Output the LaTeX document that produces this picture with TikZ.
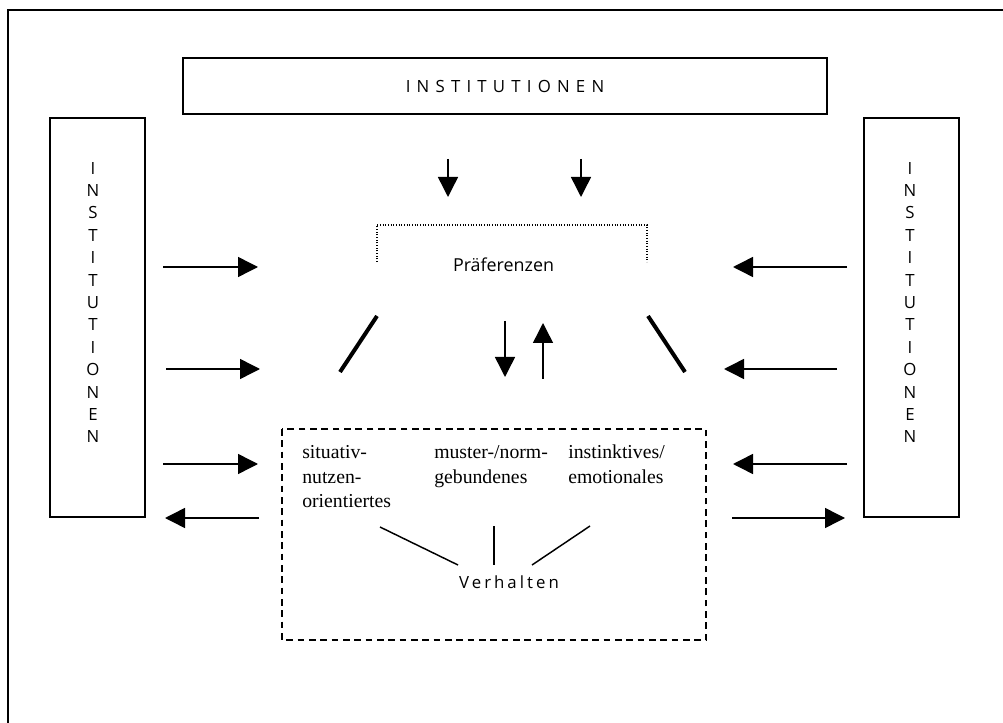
\documentclass[tikz,border=0pt]{standalone}
\usepackage{fontspec}
\setmainfont{Liberation Serif}
\newfontfamily\sansf{Open Sans}
\newfontfamily\sansls[LetterSpace=37]{Open Sans}
\newfontfamily\sansvs[LetterSpace=18]{Open Sans}
\usetikzlibrary{arrows.meta}
\begin{document}
\begin{tikzpicture}[x=0.75pt,y=-0.75pt,
  box/.style={draw, line width=1.1pt, inner sep=0pt},
  arr/.style={line width=1.1pt, -{Triangle[length=15pt,width=15pt]}},
  slant/.style={line width=3pt},
  thin/.style={line width=1.1pt},
  sanslbl/.style={font=\sansf\fontsize{13.4}{15}\selectfont, inner sep=0pt},
  vertlbl/.style={font=\sansf\fontsize{12.6}{16.8}\selectfont, align=center, inner sep=0pt},
  serlbl/.style={font=\fontsize{14.8}{18}\selectfont, align=left, inner sep=0pt, anchor=base west}]
\useasboundingbox (0,0) rectangle (1003,723);
% outer frame
\draw[line width=1.6pt] (1010,10) -- (8,10) -- (8,730);
% top box
\node[box, minimum width=483pt, minimum height=42pt, font=\sansls\fontsize{12.6}{15}\selectfont] (top) at (505,86) {INSTITUTIONEN};
% side boxes
\node[box, minimum width=71.25pt, minimum height=299.25pt] (lbox) at (97.5,317.5) {};
\node[box, minimum width=71.25pt, minimum height=299.25pt] (rbox) at (911.5,317.5) {};
\node[vertlbl] (ltext) at (93,302.5) {I\\N\\S\\T\\I\\T\\U\\T\\I\\O\\N\\E\\N};
\node[vertlbl] (rtext) at (910,302.5) {I\\N\\S\\T\\I\\T\\U\\T\\I\\O\\N\\E\\N};
% Praeferenzen
\node[sanslbl, anchor=base] (pref) at (503.5,272) {Präferenzen};
\coordinate (bl) at (377,262); \coordinate (tl) at (377,225);
\coordinate (tr) at (647,225); \coordinate (br) at (647,262);
\draw[line width=0.8pt, dash pattern=on 0.8pt off 1.2pt] (bl) -- (tl) -- (tr) -- (br);
% top arrows
\coordinate (t1s) at (448,159); \coordinate (t1e) at (448,197);
\coordinate (t2s) at (581,159); \coordinate (t2e) at (581,197);
\draw[arr] (t1s) -- (t1e);
\draw[arr] (t2s) -- (t2e);
% slanted lines
\coordinate (s1a) at (340,372); \coordinate (s1b) at (377,316);
\coordinate (s2a) at (648,316); \coordinate (s2b) at (685,372);
\draw[slant] (s1a) -- (s1b);
\draw[slant] (s2a) -- (s2b);
% middle arrows
\coordinate (m1s) at (505,321); \coordinate (m1e) at (505,377);
\coordinate (m2s) at (543,379); \coordinate (m2e) at (543,323);
\draw[arr] (m1s) -- (m1e);
\draw[arr] (m2s) -- (m2e);
% left arrows
\coordinate (l1s) at (163,267); \coordinate (l1e) at (258,267);
\coordinate (l2s) at (166,369); \coordinate (l2e) at (260,369);
\coordinate (l3s) at (163,464); \coordinate (l3e) at (258,464);
\coordinate (l4s) at (259,518); \coordinate (l4e) at (165,518);
\draw[arr] (l1s) -- (l1e);
\draw[arr] (l2s) -- (l2e);
\draw[arr] (l3s) -- (l3e);
\draw[arr] (l4s) -- (l4e);
% right arrows
\coordinate (r1s) at (847,267); \coordinate (r1e) at (733,267);
\coordinate (r2s) at (837,369); \coordinate (r2e) at (724,369);
\coordinate (r3s) at (847,464); \coordinate (r3e) at (733,464);
\coordinate (r4s) at (732,518); \coordinate (r4e) at (845,518);
\draw[arr] (r1s) -- (r1e);
\draw[arr] (r2s) -- (r2e);
\draw[arr] (r3s) -- (r3e);
\draw[arr] (r4s) -- (r4e);
% dashed box
\coordinate (dbl) at (282,429); \coordinate (dbr) at (706,640);
\draw[thin, dash pattern=on 5pt off 3.5pt] (dbl) rectangle (dbr);
\node[serlbl] (sit) at (302,507) {situativ-\\nutzen-\\orientiertes};
\node[serlbl] (mus) at (434,483) {muster-/norm-\\gebundenes};
\node[serlbl] (ins) at (568,483) {instinktives/\\emotionales};
\node[font=\sansvs\fontsize{12.6}{15}\selectfont, inner sep=0pt, anchor=base] (verh) at (509,588) {Verhalten};
\coordinate (v1a) at (380,527); \coordinate (v1b) at (458,565);
\coordinate (v2a) at (494,526); \coordinate (v2b) at (494,565);
\coordinate (v3a) at (590,526); \coordinate (v3b) at (532,565);
\draw[thin] (v1a) -- (v1b);
\draw[thin] (v2a) -- (v2b);
\draw[thin] (v3a) -- (v3b);
\end{tikzpicture}
\end{document}
